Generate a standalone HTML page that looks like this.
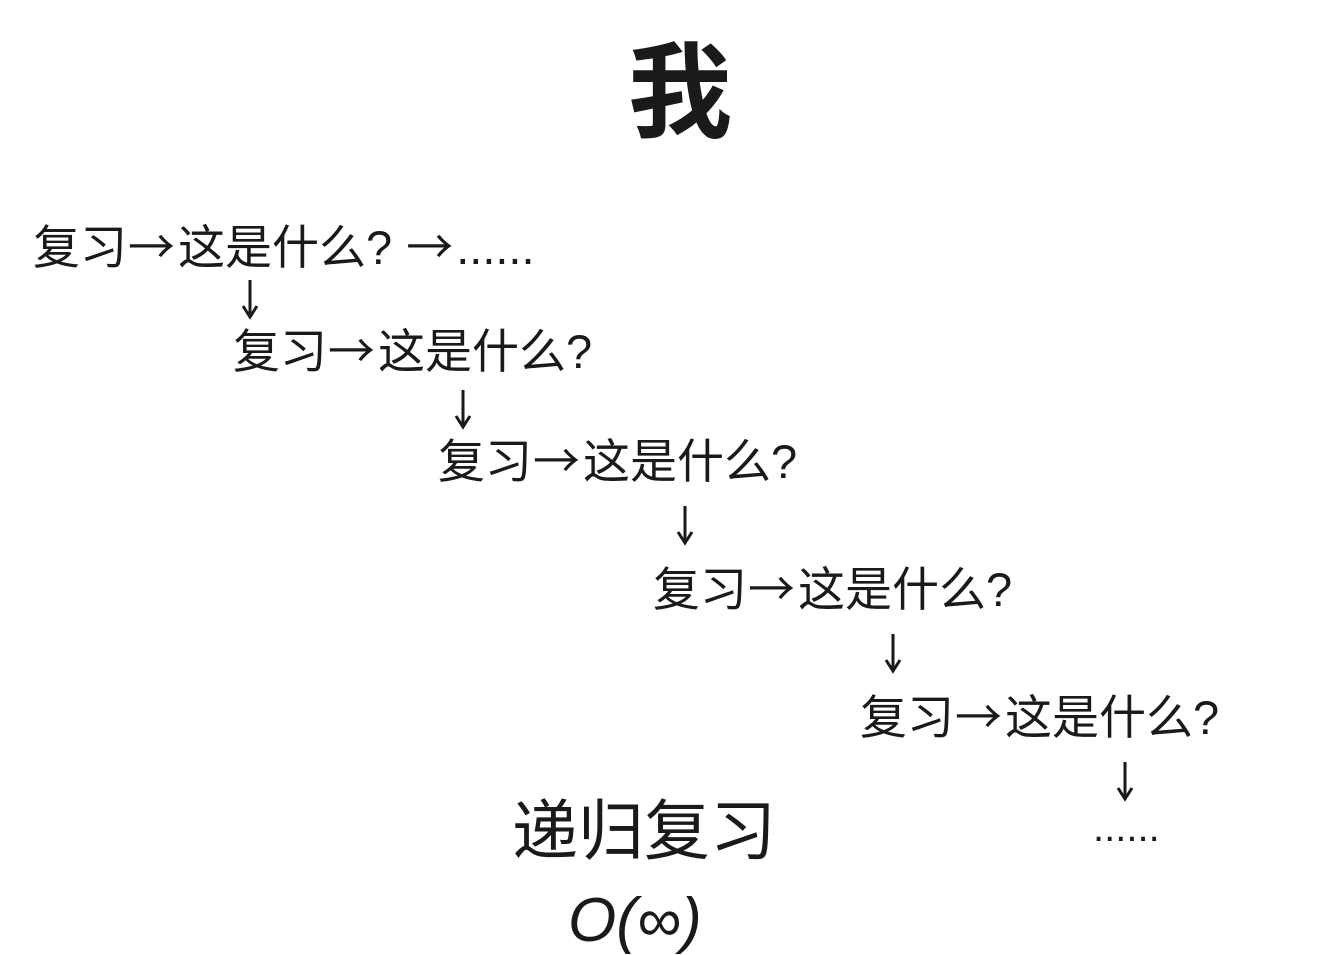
<!DOCTYPE html>
<html><head><meta charset="utf-8"><style>
body{margin:0;width:1334px;height:946px;background:#fff;overflow:hidden;position:relative;font-family:"Liberation Sans","Noto Sans CJK SC",sans-serif;color:#1a1a1a}
.t{position:absolute;white-space:nowrap;line-height:1;font-size:47px}
.r{font-family:"Noto Sans CJK SC",sans-serif;margin:0 3px 0 1px}
svg{position:absolute;left:0;top:0}
</style></head><body>
<div class="t" style="left:628px;top:42px;font-size:104px;font-weight:bold">我</div>
<div class="t" style="left:33px;top:220px">复习<span class="r">→</span>这是什么?&nbsp;<span class="r">→</span>......</div>
<div class="t" style="left:233px;top:324px">复习<span class="r">→</span>这是什么?</div>
<div class="t" style="left:438px;top:434px">复习<span class="r">→</span>这是什么?</div>
<div class="t" style="left:653px;top:562px">复习<span class="r">→</span>这是什么?</div>
<div class="t" style="left:860px;top:690px">复习<span class="r">→</span>这是什么?</div>
<div class="t" style="left:1093px;top:808px;font-size:40px">......</div>
<div class="t" style="left:512px;top:798px;font-size:66px">递归复习</div>
<div class="t" style="left:568px;top:890px;font-size:62px;font-style:italic">O(∞)</div>
<svg width="1334" height="946" fill="none" stroke="#1a1a1a" stroke-width="3">
<path d="M250 280V316M243 306L250 317L257 306"/>
<path d="M463 390V426M456 416L463 427L470 416"/>
<path d="M685 506V542M678 532L685 543L692 532"/>
<path d="M893 634V670M886 660L893 671L900 660"/>
<path d="M1125 762V798M1118 788L1125 799L1132 788"/>
</svg>
</body></html>
